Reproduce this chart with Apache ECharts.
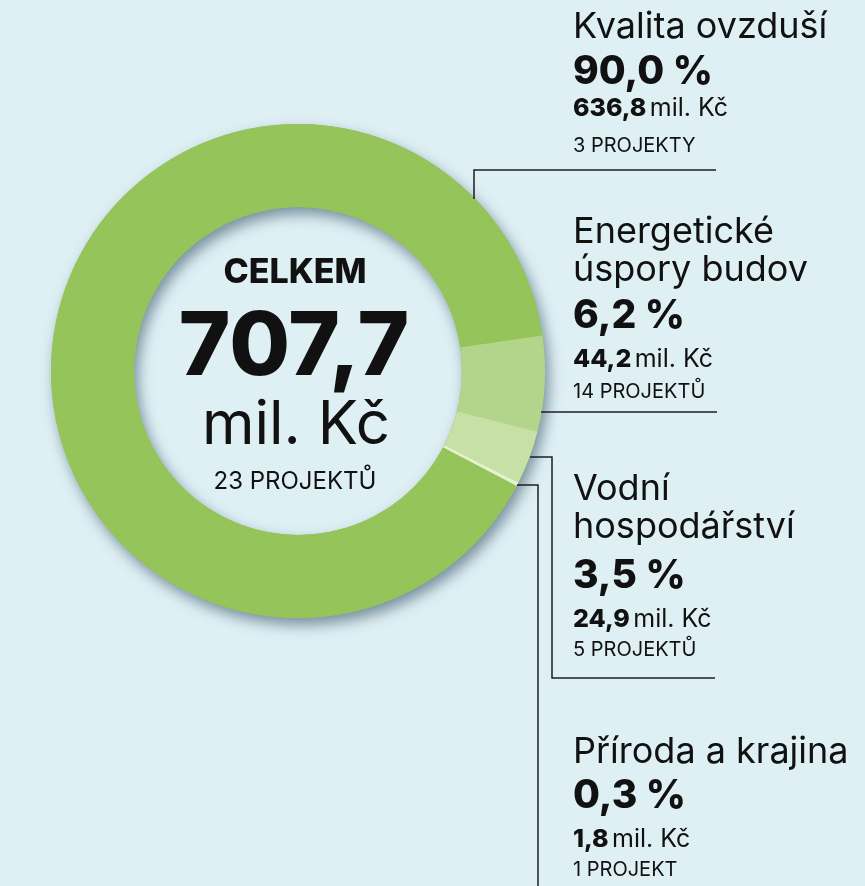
<!DOCTYPE html>
<html>
<head>
<meta charset="utf-8">
<script src="https://cdn.jsdelivr.net/npm/echarts@6/dist/echarts.min.js"></script>
<style>
  html, body { margin: 0; padding: 0; background: #dff0f5; }
  #chart { width: 865px; height: 886px; }
</style>
</head>
<body>
<div id="chart"></div>
<script>
// data (mil. Kč), clockwise from the right
const categories = ['Energetické\núspory budov', 'Vodní\nhospodářství', 'Příroda a krajina', 'Kvalita ovzduší'];
const amounts = [44.2, 24.9, 1.8, 636.8];
const projects = [14, 5, 1, 3];
const projectWords = ['PROJEKTŮ', 'PROJEKTŮ', 'PROJEKT', 'PROJEKTY'];
const colors = ['#b3d48b', '#c6e0a6', '#e6f1d4', '#95c45a'];

const total = amounts.reduce((a, b) => a + b, 0);
const totalProjects = projects.reduce((a, b) => a + b, 0);
const fmt = v => v.toFixed(1).replace('.', ',');

const FONT = 'Inter, "Noto Sans", sans-serif';
const CX = 298, CY = 371;

// baselines of each label block
const blocks = [
  { title: [245, 283], pct: 330, amt: 368, proj: 399 },
  { title: [502, 540], pct: 590, amt: 628, proj: 657 },
  { title: [765], pct: 810, amt: 848, proj: 877 },
  { title: [40], pct: 86, amt: 117, proj: 153 }
];

const chart = echarts.init(document.getElementById('chart'));
const graphics = [];

function txt(x, baseline, text, size, weight, align) {
  graphics.push({
    type: 'text', silent: true,
    style: {
      x: x, y: baseline - 0.36 * size, text: text,
      font: (weight || 400) + ' ' + size + 'px ' + FONT,
      fill: '#111', textAlign: align || 'left', textVerticalAlign: 'middle'
    }
  });
}

categories.forEach((name, i) => {
  const b = blocks[i];
  name.split('\n').forEach((ln, k) => txt(573, b.title[k], ln, 36, 400));
  txt(573, b.pct, fmt(amounts[i] / total * 100) + ' %', 39, 800);
  graphics.push({
    type: 'text', silent: true,
    style: {
      x: 573, y: b.amt - 0.36 * 25,
      text: '{b|' + fmt(amounts[i]) + '} {r|mil. Kč}',
      textVerticalAlign: 'middle',
      rich: {
        b: { font: '800 25px ' + FONT, fill: '#111' },
        r: { font: '400 25px ' + FONT, fill: '#111' }
      }
    }
  });
  txt(573, b.proj, projects[i] + ' ' + projectWords[i], 20, 400);
});

// centre
txt(CX - 3, 285, 'CELKEM', 34, 800, 'center');
txt(CX - 4, 380, fmt(total), 88, 800, 'center');
txt(CX - 2, 448, 'mil. Kč', 60, 400, 'center');
txt(CX - 3, 490, totalProjects + ' PROJEKTŮ', 24, 400, 'center');

// leader lines
const lineStyle = { stroke: '#1e1e1e', lineWidth: 1.5, fill: null };
[
  [[474, 199], [474, 170], [716, 170]],
  [[541, 412], [717, 412]],
  [[530, 457], [552, 457], [552, 678], [715, 678]],
  [[517, 485], [538, 485], [538, 886]]
].forEach(pts => graphics.push({ type: 'polyline', silent: true, z: 10, shape: { points: pts }, style: lineStyle }));

chart.setOption({
  backgroundColor: '#dff0f5',
  animation: false,
  series: [
    {
      // backdrop ring that carries the drop shadow
      type: 'pie', silent: true, z: 1,
      center: [CX, CY], radius: [164, 247],
      label: { show: false }, labelLine: { show: false },
      itemStyle: {
        color: '#95c45a',
        shadowBlur: 14, shadowOffsetX: 4, shadowOffsetY: 7,
        shadowColor: 'rgba(20, 50, 70, 0.5)'
      },
      data: [{ value: 1, name: 'ring' }]
    },
    {
      type: 'pie', z: 2,
      center: [CX, CY], radius: [164, 247],
      startAngle: 8.3, clockwise: true,
      label: { show: false }, labelLine: { show: false },
      data: categories.map((n, i) => ({
        name: n.replace('\n', ' '), value: amounts[i],
        itemStyle: { color: colors[i] }
      }))
    }
  ],
  graphic: graphics
});
</script>
</body>
</html>
